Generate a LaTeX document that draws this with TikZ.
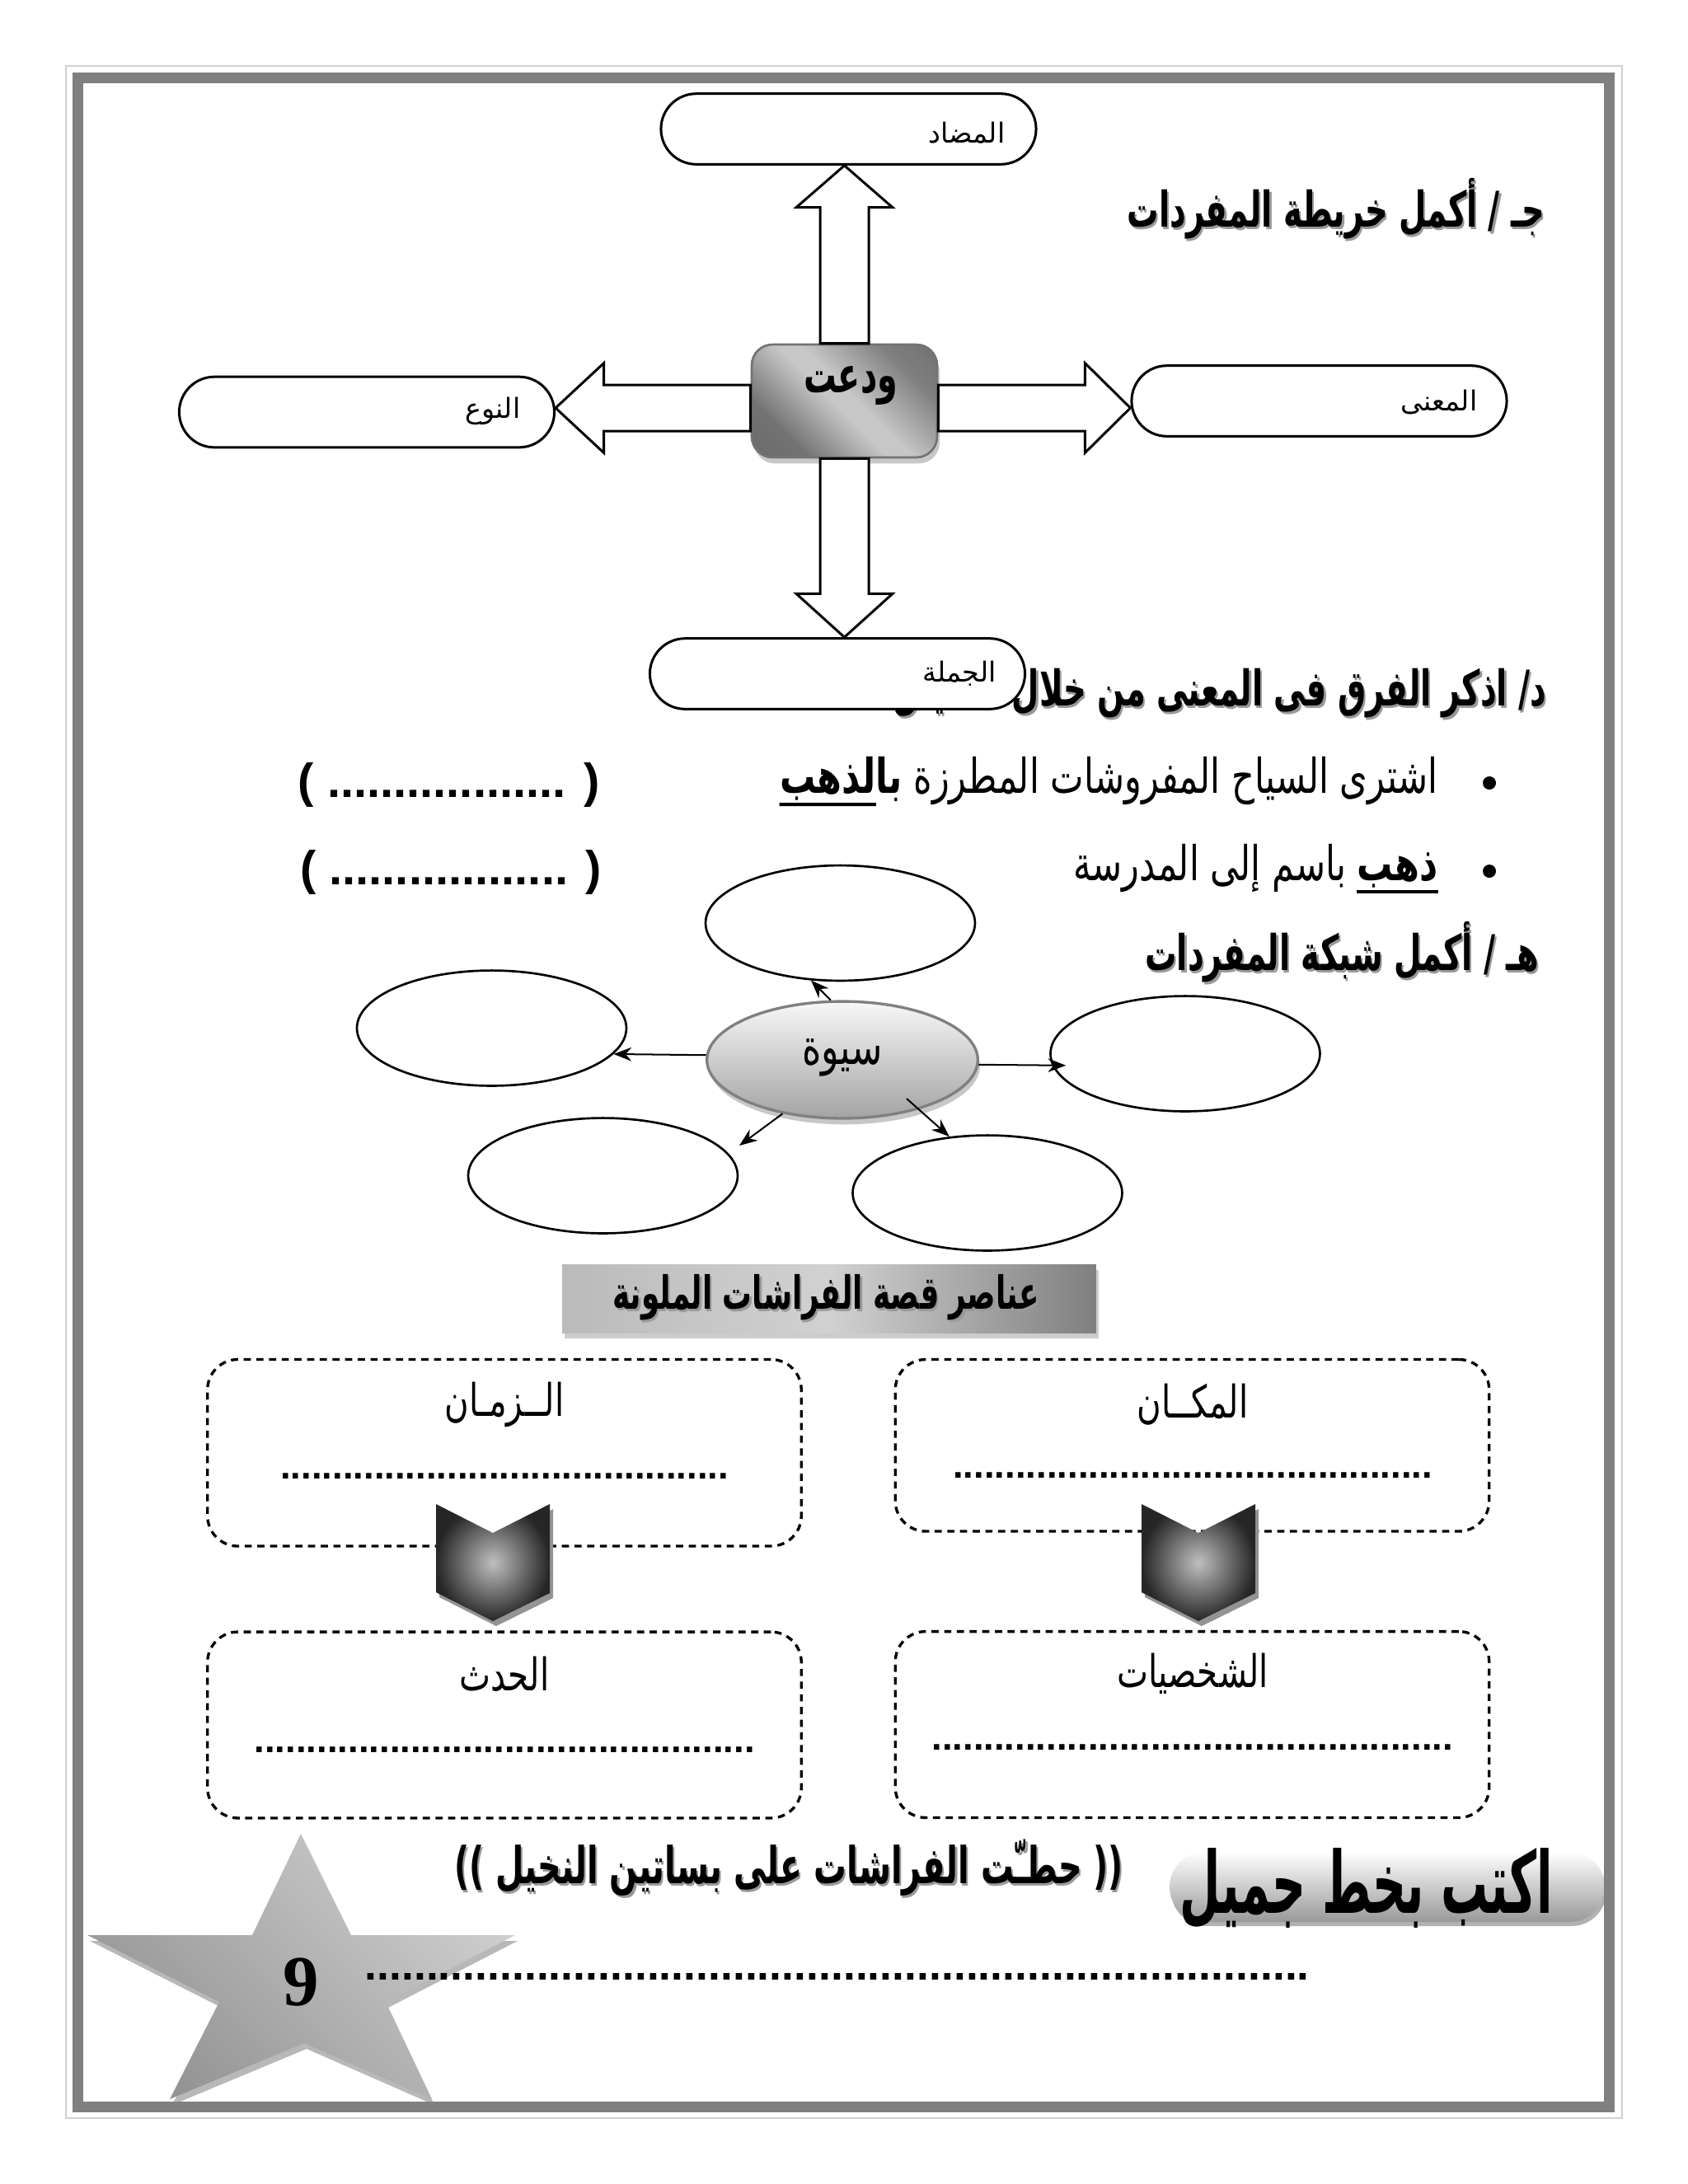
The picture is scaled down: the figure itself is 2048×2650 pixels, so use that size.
\documentclass[tikz,border=0pt]{standalone}
\usepackage{fontspec}
\setmainfont{Liberation Serif}
\newfontfamily\arabicfont[Script=Arabic,FakeStretch=0.74]{DejaVu Sans}
\newfontfamily\arabicplain[Script=Arabic]{DejaVu Sans}
\newfontfamily\latinsans{Liberation Sans}
\TeXXeTstate=1
\usetikzlibrary{calc,shadows,arrows.meta,shapes.geometric}
\newcommand\AR[1]{{\arabicfont\beginR #1\endR}}
\newcommand\ARB[1]{{\arabicfont\bfseries\beginR #1\endR}}
\newcommand\ARH[1]{\scalebox{1}[1.15]{\ARB{#1}}}
\newcommand\ARS[1]{{\arabicplain\beginR #1\endR}}
\newcommand\fsz[1]{\fontsize{#1}{#1}\selectfont}
\newcount\dotcnt
\newcommand\dotrow[1]{\dotcnt=0 \loop\ifnum\dotcnt<#1 .\advance\dotcnt by 1 \repeat}
\newcommand\shtext[4]{%
  \node[#1, text=black!40, xshift=0.7pt, yshift=-0.9pt] at #3 {#4};
  \node[#1] (#2) at #3 {#4};}
\pgfdeclarehorizontalshading{wboxshade}{100bp}{color(0bp)=(black!62); color(28bp)=(black!55); color(47bp)=(black!22); color(53bp)=(black!22); color(72bp)=(black!50); color(100bp)=(black!62)}
\tikzset{
  term/.style={draw, line width=0.9pt, fill=white, rounded corners=12.8pt,
    minimum width=136pt, minimum height=25.6pt, inner sep=0pt},
  blockarrow/.style={draw, line width=0.9pt, fill=white, line join=miter},
  wbox/.style={draw=black!55, line width=0.8pt, rounded corners=7.5pt,
    shading=wboxshade, shading angle=45, minimum width=67.2pt, minimum height=40.9pt,
    inner sep=0pt, drop shadow={shadow xshift=0.9pt, shadow yshift=-2.2pt, fill=black!22, opacity=1}},
  bubble/.style={ellipse, draw, line width=0.8pt, fill=white, minimum width=97.7pt,
    minimum height=41.8pt, inner sep=0pt},
  hub/.style={ellipse, draw=black!50, line width=1pt, top color=black!3, bottom color=black!36,
    minimum width=98.2pt, minimum height=42.4pt, inner sep=0pt,
    drop shadow={shadow xshift=0.8pt, shadow yshift=-2.2pt, fill=black!22, opacity=1}},
  net/.style={line width=0.6pt, -{Stealth[length=6.5pt,width=5pt]}},
  banner/.style={draw=none, left color=black!27, right color=black!50, middle color=black!18,
    minimum width=193.6pt, minimum height=24.8pt, inner sep=0pt,
    drop shadow={shadow xshift=0.9pt, shadow yshift=-2pt, fill=black!20, opacity=1}},
  dbox/.style={draw, line width=1pt, dash pattern=on 2.6pt off 2pt, rounded corners=11pt,
    minimum width=215.3pt, inner sep=0pt},
  boxtitle/.style={font=\fsz{16.3}},
  dotline/.style={font=\latinsans\bfseries\fsz{13.6}, inner sep=0pt},
  bullettext/.style={anchor=base east, inner sep=0pt, font=\fsz{17.4}},
  heading/.style={anchor=east, font=\fsz{15.5}},
  chevshadow/.style={fill=black!42},
  chevbody/.style={inner color=black!25, outer color=black!85},
  starshadow/.style={fill=black!28},
  starbody/.style={bottom color=black!42, middle color=black!21, top color=black!19, shading angle=-45},
  pill/.style={draw=none, top color=white, bottom color=black!40, rounded corners=12.7pt,
    minimum width=157.8pt, minimum height=25.4pt, inner sep=0pt,
    drop shadow={shadow xshift=0.6pt, shadow yshift=-1.5pt, fill=black!30, opacity=1}},
}
\begin{document}
\begin{tikzpicture}[x=0.29883pt,y=-0.29883pt]
\useasboundingbox (0,0) rectangle (2048,2650);
\fill[white] (0,0) rectangle (2048,2650);

% ---------- section j
\shtext{heading}{hj}{(1886,253)}{\ARH{جـ / أكمل خريطة المفردات}}
\shtext{heading}{hd}{(1888,841)}{\ARH{د\kern0pt/ اذكر الفرق فى المعنى من خلال السياق}}

\node[term] (up) at (1029.5,156.5) {};
\node[term] (nw) at (445,500) {};
\node[term] (ma) at (1600.5,486.5) {};
\node[term] (jm) at (1016,817.5) {};
\node[font=\fsz{10}] (lup) at (1173,161) {\ARS{المضاد}};
\node[font=\fsz{10}] (lnw) at (598,499) {\ARS{النوع}};
\node[font=\fsz{10}] (lma) at (1746,488) {\ARS{المعنى}};
\node[font=\fsz{10}] (ljm) at (1164,817) {\ARS{الجملة}};

\node[wbox] (wb) at (1024.5,486.5) {};
\node[font=\fsz{16}] (wbt) at (1032,468) {\ARH{ودعت}};

\coordinate (ax) at ($(wb.east)+(0,8.5)$);
\coordinate (axl) at ($(wb.west)+(0,8.5)$);
% up
\draw[blockarrow] ($(wb.north)+(-29.5,0)$) -- ($(wb.north)+(-29.5,-165)$) -- ($(wb.north)+(-58.5,-165)$)
  -- (wb.north |- up.south) -- ($(wb.north)+(58.5,-165)$) -- ($(wb.north)+(29.5,-165)$)
  -- ($(wb.north)+(29.5,0)$) -- cycle;
% down
\draw[blockarrow] ($(wb.south)+(-29.5,0)$) -- ($(wb.south)+(-29.5,164)$) -- ($(wb.south)+(-58.5,164)$)
  -- (wb.south |- jm.north) -- ($(wb.south)+(58.5,164)$) -- ($(wb.south)+(29.5,164)$)
  -- ($(wb.south)+(29.5,0)$) -- cycle;
% right
\draw[blockarrow] ($(ax)+(0,-28)$) -- ($(ax)+(178,-28)$) -- ($(ax)+(178,-54.5)$)
  -- (ma.west |- ax) -- ($(ax)+(178,54.5)$) -- ($(ax)+(178,28)$) -- ($(ax)+(0,28)$) -- cycle;
% left
\draw[blockarrow] ($(axl)+(0,-28)$) -- ($(axl)+(-178,-28)$) -- ($(axl)+(-178,-54.5)$)
  -- (nw.east |- axl) -- ($(axl)+(-178,54.5)$) -- ($(axl)+(-178,28)$) -- ($(axl)+(0,28)$) -- cycle;

% ---------- section d
\fill (1807,950) circle[radius=8];
\node[bullettext] (b1) at (1745,962) {\AR{اشترى السياح المفروشات المطرزة}};
\node[bullettext] (b1w) at ($(b1.base west)+(-12,0)$) {\ARB{بالذهب}};
\draw[line width=1.2pt] ($(b1w.base west)+(0,14)$) -- ($(b1w.base west)!0.78!(b1w.base east)+(0,14)$);
\node[font=\latinsans\bfseries\fsz{17.3}] (p1) at (544.5,953) {( \dotrow{18} )};

\fill (1807,1057) circle[radius=8];
\node[bullettext] (b2w) at (1745,1068) {\ARB{ذهب}};
\node[bullettext] (b2) at ($(b2w.base west)+(-12,0)$) {\AR{باسم إلى المدرسة}};
\draw[line width=1.2pt] ($(b2w.base west)+(0,14)$) -- ($(b2w.base east)+(0,14)$);
\node[font=\latinsans\bfseries\fsz{17.3}] (p2) at (547,1059) {( \dotrow{18} )};

% ---------- section h
\shtext{heading}{hh}{(1879,1155)}{\ARH{هـ / أكمل شبكة المفردات}}

\node[bubble] (t) at (1019.5,1120) {};
\node[bubble] (l) at (596.5,1247.5) {};
\node[bubble] (r) at (1438,1278.5) {};
\node[bubble] (bl) at (731.5,1426.5) {};
\node[bubble] (br) at (1198,1447.5) {};
\node[hub] (c) at (1022,1286) {};
\node[font=\fsz{18}] (ct) at (1022,1283) {\AR{سيوة}};
\coordinate (blend) at (897,1390);
\coordinate (brs) at (1100,1333);
\draw[net] (c.101) -- (t.243);
\draw[net] (c.178) -- (l.348);
\draw[net, shorten >=-5pt] (c.358) -- (r.185);
\draw[net] (c.222) -- (blend);
\draw[net] (brs) -- (br.124);

% ---------- story elements
\node[banner] (bn) at (1006,1575.5) {};
\shtext{font=\fsz{14.4}}{bt}{(1002,1574)}{\ARH{عناصر قصة الفراشات الملونة}}

\node[dbox, minimum height=67.7pt] (zb) at (612,1762.75) {};
\node[dbox, minimum height=62.3pt] (mb) at (1446.5,1753.75) {};
\node[dbox, minimum height=67.5pt] (hb) at (612,2093) {};
\node[dbox, minimum height=67.5pt] (sb) at (1446.5,2092.5) {};
\node[boxtitle] (zt) at (612,1704) {\AR{الــزمـان}};
\node[boxtitle] (mt) at (1447,1704) {\AR{المكــان}};
\node[boxtitle] (ht) at (612,2031) {\AR{الحدث}};
\node[boxtitle] (st) at (1447,2031) {\AR{الشخصيات}};
\node[dotline] (zd) at (612,1791) {\dotrow{43}};
\node[dotline] (md) at (1447,1790) {\dotrow{46}};
\node[dotline] (hd2) at (612,2123) {\dotrow{48}};
\node[dotline] (sd) at (1446.5,2120) {\dotrow{50}};

% chevrons
\foreach \dx in {0,856}{
  \fill[chevshadow, shift={(\dx+4,6)}] (529,1825) -- (598,1860) -- (667,1825) -- (667,1933) -- (598,1967) -- (529,1932) -- cycle;
  \shade[chevbody, shift={(\dx,0)}] (529,1825) -- (598,1860) -- (667,1825) -- (667,1933) -- (598,1967) -- (529,1932) -- cycle;
}

% ---------- bottom
\fill[starshadow, shift={(3,7)}] (365,2225) -- (426,2348) -- (625,2348) -- (468,2429) -- (524,2547) -- (369,2479) -- (206,2547) -- (266,2429) -- (106,2348) -- (306,2348) -- cycle;
\shade[starbody] (365,2225) -- (426,2348) -- (625,2348) -- (468,2429) -- (524,2547) -- (369,2479) -- (206,2547) -- (266,2429) -- (106,2348) -- (306,2348) -- cycle;
\node[font=\bfseries\fsz{26}] (nine) at (365,2405) {9};
\node[font=\latinsans\bfseries\fsz{16}, inner sep=0pt, anchor=west] (ld) at (442,2398) {\dotrow{77}};

\shtext{font=\fsz{16}}{sent}{(957,2266)}{\ARH{(( حطـّت الفراشات على بساتين النخيل ))}}

\node[pill] (pl) at (1683,2289.5) {};
\node[font=\fsz{23}] (plt) at (1658,2292) {\scalebox{1}[1.35]{\ARB{اكتب بخط جميل}}};

% ---------- frame
\draw[black!18, line width=0.6pt] (80,80) rectangle (1968,2570);
\draw[black!50, line width=3.9pt] (94.5,94.5) rectangle (1952.5,2556);
\end{tikzpicture}
\end{document}
